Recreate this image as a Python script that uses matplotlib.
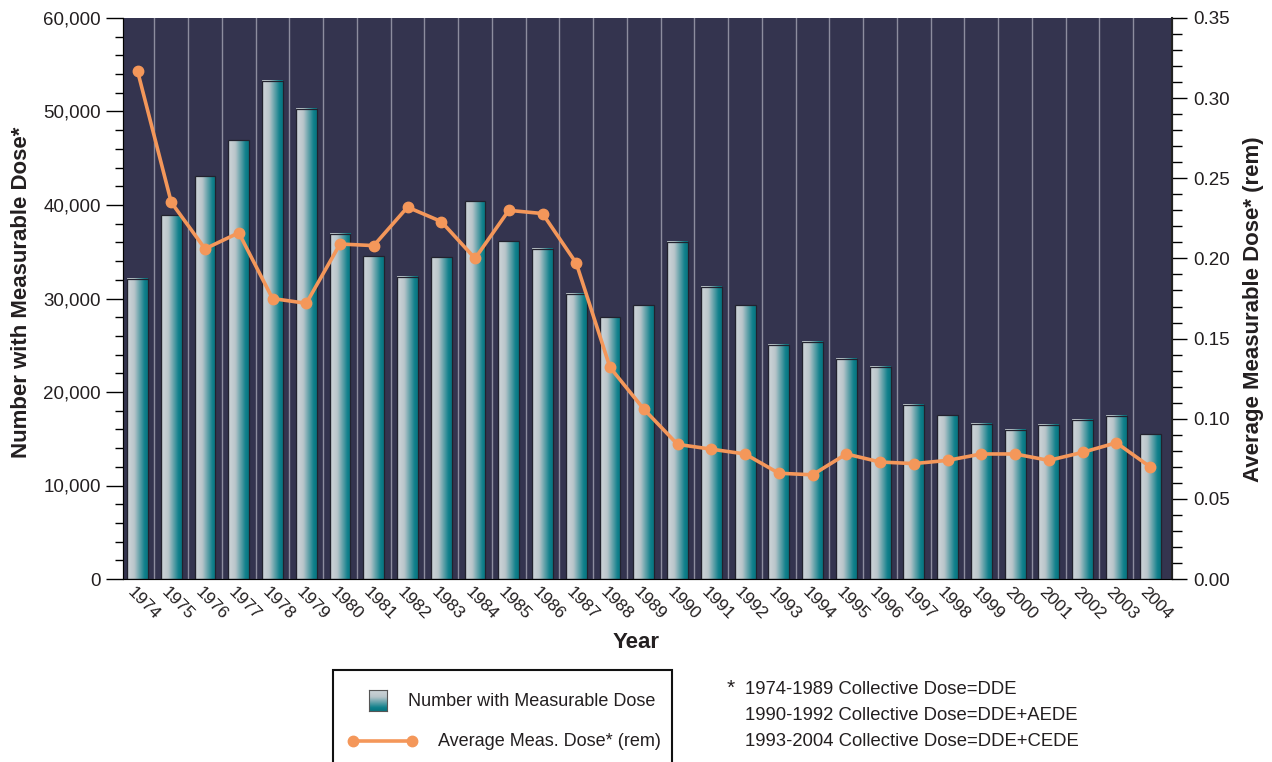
import matplotlib
matplotlib.use("Agg")
import matplotlib.pyplot as plt
import numpy as np
from matplotlib.colors import LinearSegmentedColormap
from matplotlib.patches import Rectangle
from matplotlib.lines import Line2D
from matplotlib.ticker import MultipleLocator, FuncFormatter
import matplotlib.transforms as mtransforms

plt.rcParams['font.family'] = ['Liberation Sans', 'DejaVu Sans']

years = list(range(1974, 2005))
numberMeasurable = [32100, 38900, 43100, 46900, 53300, 50300, 36900, 34500, 32300, 34400,
                    40400, 36100, 35300, 30500, 28000, 29300, 36050, 31250, 29300, 25050,
                    25350, 23550, 22700, 18650, 17500, 16600, 15950, 16500, 17050, 17450,
                    15500]
avgDose = [0.317, 0.235, 0.206, 0.216, 0.175, 0.172, 0.209, 0.208, 0.232, 0.223,
           0.200, 0.230, 0.228, 0.197, 0.132, 0.106, 0.084, 0.081, 0.078, 0.066,
           0.065, 0.078, 0.073, 0.072, 0.074, 0.078, 0.078, 0.074, 0.079, 0.085,
           0.070]
footnotes = ["1974-1989 Collective Dose=DDE",
             "1990-1992 Collective Dose=DDE+AEDE",
             "1993-2004 Collective Dose=DDE+CEDE"]

bgColor = "#34344f"
orange = "#f4975a"
textColor = "#231f20"
barCmap = LinearSegmentedColormap.from_list(
    "bar", [(0, "#9da7ad"), (0.08, "#cbd2d6"), (0.35, "#b9c5ca"), (0.85, "#0f808b"), (1, "#087580")])

W, H = 1272, 762
fig = plt.figure(figsize=(W / 100, H / 100), dpi=100)
ax = fig.add_axes([123 / W, 1 - 579 / H, (1172 - 123) / W, (579 - 18) / H])
ax.set_facecolor(bgColor)

x = np.arange(len(years))
barWidth = 0.62
grad = np.linspace(0, 1, 64).reshape(1, -1)

# gridlines between the year groups
for i in range(len(years) - 1):
    ax.axvline(i + 0.5, color="#8d8d9f", lw=1, zorder=1)

for xi, val in zip(x, numberMeasurable):
    ax.imshow(grad, cmap=barCmap, aspect="auto", interpolation="bicubic",
              extent=(xi - barWidth / 2, xi + barWidth / 2, 0, val), zorder=2)
ax.bar(x, numberMeasurable, width=barWidth, fill=False, edgecolor="#22222e", lw=0.9, zorder=3)

ax.set_xlim(-0.43, 30.65)
ax.set_ylim(0, 60000)
ax.yaxis.set_major_locator(MultipleLocator(10000))
ax.yaxis.set_minor_locator(MultipleLocator(2000))
ax.yaxis.set_major_formatter(FuncFormatter(lambda v, p: "{:,.0f}".format(v)))
ax.tick_params(axis="y", which="major", length=12, width=1, labelsize=13.5, pad=4,
               labelcolor=textColor)
ax.tick_params(axis="y", which="minor", length=6, width=1)

ax.set_xticks(x)
ax.set_xticklabels([str(y) for y in years], rotation=-45, fontsize=12.5, ha="center",
                   color=textColor)
ax.tick_params(axis="x", length=0, pad=4)
offset = mtransforms.ScaledTranslation(6 / 100, 0, fig.dpi_scale_trans)
for lbl in ax.get_xticklabels():
    lbl.set_transform(lbl.get_transform() + offset)

ax.spines["top"].set_visible(False)
ax.spines["left"].set_color("#222222")
ax.spines["bottom"].set_color("#444444")

ax2 = ax.twinx()
ax2.patch.set_visible(False)
ax2.plot(x, avgDose, color=orange, lw=2.6, marker="o", markersize=7.5, zorder=5)
ax2.set_ylim(0, 0.35)
ax2.yaxis.set_major_locator(MultipleLocator(0.05))
ax2.yaxis.set_minor_locator(MultipleLocator(0.01))
ax2.yaxis.set_major_formatter(FuncFormatter(lambda v, p: "{:.2f}".format(v)))
ax2.tick_params(axis="y", which="major", length=11, width=1, labelsize=13.5, pad=4,
                labelcolor=textColor)
ax2.tick_params(axis="y", which="minor", length=7, width=1)
ax2.spines["top"].set_visible(False)
ax2.spines["right"].set_color("#222222")
ax2.spines["right"].set_linewidth(1.5)

fig.text(22 / W, 1 - 292.5 / H, "Number with Measurable Dose*", rotation=90,
         ha="center", va="center", fontsize=16, fontweight="bold", color=textColor)
fig.text(1253 / W, 1 - 309 / H, "Average Measurable Dose* (rem)", rotation=90,
         ha="center", va="center", fontsize=16, fontweight="bold", color=textColor)
fig.text(636 / W, 1 - 643 / H, "Year", ha="center", va="center",
         fontsize=16, fontweight="bold", color=textColor)

# legend box drawn by hand
fig.patches.append(Rectangle((333 / W, 1 - 775 / H), (672 - 333) / W, (775 - 670) / H,
                             transform=fig.transFigure, fill=False, edgecolor="#111111", lw=1.5))
legAx = fig.add_axes([369 / W, 1 - 711 / H, 18 / W, 21 / H])
legAx.imshow(np.linspace(0, 1, 32).reshape(-1, 1)[::-1], cmap=barCmap, aspect="auto",
             interpolation="bicubic", extent=(0, 1, 0, 1), origin="lower")
legAx.set_xticks([])
legAx.set_yticks([])
for s in legAx.spines.values():
    s.set_color("#555555")
    s.set_linewidth(0.8)
fig.add_artist(Line2D([353 / W, 412 / W], [1 - 741 / H, 1 - 741 / H], transform=fig.transFigure,
                      color=orange, lw=2.6, marker="o", markersize=7.5))
fig.text(408 / W, 1 - 701 / H, "Number with Measurable Dose", ha="left", va="center",
         fontsize=13, color=textColor)
fig.text(438 / W, 1 - 741 / H, "Average Meas. Dose* (rem)", ha="left", va="center",
         fontsize=13, color=textColor)

fig.text(727 / W, 1 - 688 / H, "*", ha="left", va="center", fontsize=15, color=textColor)
for k, note in enumerate(footnotes):
    fig.text(745 / W, 1 - (690 + 26 * k) / H, note, ha="left", va="center",
             fontsize=13.3, color=textColor)

fig.savefig("out.png", dpi=100)
